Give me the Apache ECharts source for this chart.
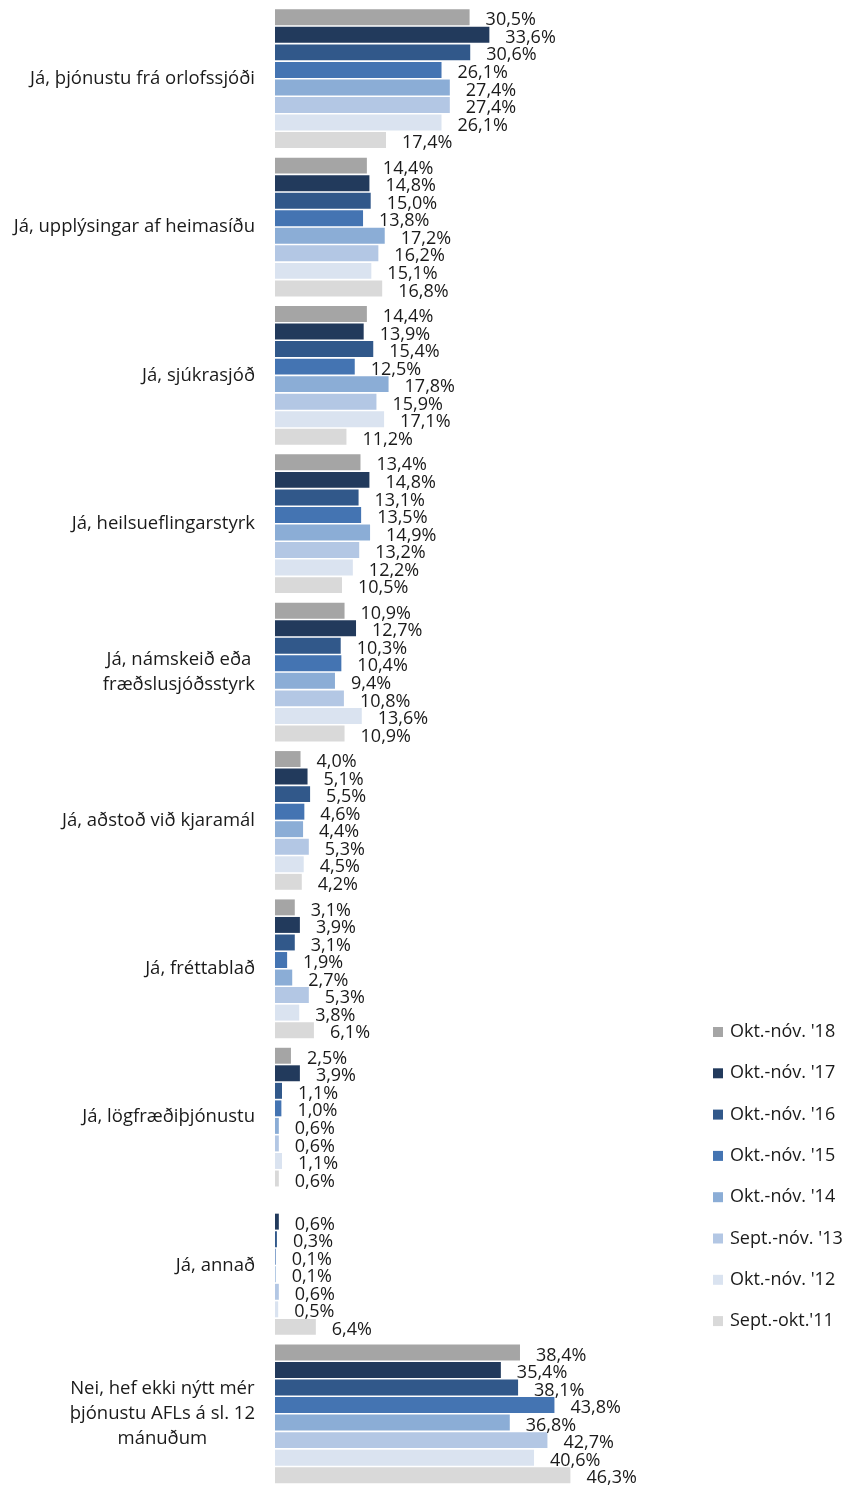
<!DOCTYPE html>
<html>
<head>
<meta charset="UTF-8">
<script src="https://cdn.jsdelivr.net/npm/echarts@6/dist/echarts.min.js"></script>
<style type="text/css">
html, body { margin: 0; padding: 0; background: #fff; }
#main { width: 863px; height: 1488px; }
</style>
</head>
<body>
<div id="main"></div>
<script type="text/javascript">
// flokkar (ofan frá og niður)
var categories = [
	'Já, þjónustu frá orlofssjóði',
	'Já, upplýsingar af heimasíðu',
	'Já, sjúkrasjóð',
	'Já, heilsueflingarstyrk',
	'Já, námskeið eða\nfræðslusjóðsstyrk',
	'Já, aðstoð við kjaramál',
	'Já, fréttablað',
	'Já, lögfræðiþjónustu',
	'Já, annað',
	'Nei, hef ekki nýtt mér\nþjónustu AFLs á sl. 12\nmánuðum'
];
var seriesNames = ["Okt.-nóv. '18", "Okt.-nóv. '17", "Okt.-nóv. '16", "Okt.-nóv. '15",
	"Okt.-nóv. '14", "Sept.-nóv. '13", "Okt.-nóv. '12", "Sept.-okt.'11"];
var colors = ['#a5a5a5', '#223a5c', '#31588a', '#4474b2', '#8badd6', '#b3c7e4', '#dae3f0', '#d9d9d9'];

// null = ekkert gildi
var v18 = [30.5, 14.4, 14.4, 13.4, 10.9, 4.0, 3.1, 2.5, null, 38.4];
var v17 = [33.6, 14.8, 13.9, 14.8, 12.7, 5.1, 3.9, 3.9, 0.6, 35.4];
var v16 = [30.6, 15.0, 15.4, 13.1, 10.3, 5.5, 3.1, 1.1, 0.3, 38.1];
var v15 = [26.1, 13.8, 12.5, 13.5, 10.4, 4.6, 1.9, 1.0, 0.1, 43.8];
var v14 = [27.4, 17.2, 17.8, 14.9, 9.4, 4.4, 2.7, 0.6, 0.1, 36.8];
var v13 = [27.4, 16.2, 15.9, 13.2, 10.8, 5.3, 5.3, 0.6, 0.6, 42.7];
var v12 = [26.1, 15.1, 17.1, 12.2, 13.6, 4.5, 3.8, 1.1, 0.5, 40.6];
var v11 = [17.4, 16.8, 11.2, 10.5, 10.9, 4.2, 6.1, 0.6, 6.4, 46.3];
var allValues = [v18, v17, v16, v15, v14, v13, v12, v11];

var font = 'Open Sans';

var series = [];
for (var i = 0; i < seriesNames.length; i++) {
	series.push({
		name: seriesNames[i],
		type: 'bar',
		data: allValues[i],
		barGap: '10%',
		barCategoryGap: '6.5%',
		itemStyle: { color: colors[i] },
		label: {
			show: true,
			position: 'right',
			distance: 16,
			offset: [0, 3],
			fontFamily: font,
			fontSize: 18,
			color: '#1a1a1a',
			formatter: function (p) {
				return p.value.toFixed(1).replace('.', ',') + '%';
			}
		}
	});
}

var myChart = echarts.init(document.getElementById('main'));
var option = {
	animation: false,
	grid: { left: 275, top: 4.5, width: 319, height: 1489, containLabel: false },
	legend: {
		orient: 'vertical',
		left: 708,
		top: 1018,
		itemWidth: 10,
		itemHeight: 10,
		itemGap: 23.3,
		icon: 'rect',
		data: seriesNames,
		textStyle: { fontFamily: font, fontSize: 18, color: '#1a1a1a', padding: [0, 0, 0, 2] }
	},
	xAxis: {
		type: 'value',
		min: 0,
		max: 50,
		show: false
	},
	yAxis: {
		type: 'category',
		inverse: true,
		data: categories,
		axisLine: { show: false },
		axisTick: { show: false },
		axisLabel: {
			margin: 20,
			align: 'right',
			fontFamily: font,
			fontSize: 18.5,
			lineHeight: 25,
			color: '#1a1a1a',
			formatter: function (val) {
				return val.split('\n').map(function (s) { return '{c|' + s + '}'; }).join('\n');
			},
			rich: {
				c: { align: 'center', fontFamily: font, fontSize: 18.5, lineHeight: 25, color: '#1a1a1a' }
			}
		}
	},
	series: series
};
myChart.setOption(option);
</script>
</body>
</html>
